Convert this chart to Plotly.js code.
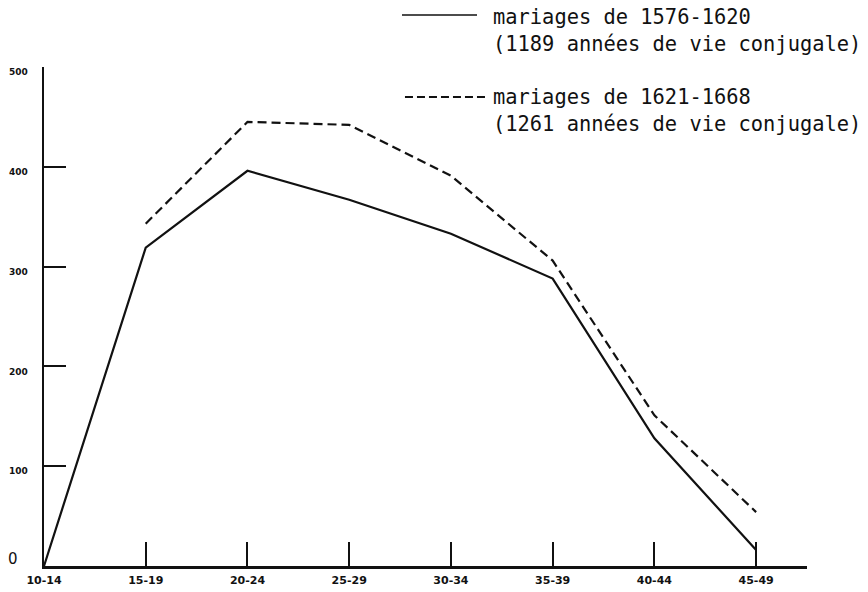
<!DOCTYPE html>
<html>
<head>
<meta charset="utf-8">
<script src="https://cdn.plot.ly/plotly-3.0.1.min.js"></script>
<style>html,body{margin:0;padding:0;background:#fff;}#chart{width:868px;height:592px;}</style>
</head>
<body>
<div id="chart"></div>
<script>
// Age groups of the wife
const ageGroups = ['10-14', '15-19', '20-24', '25-29', '30-34', '35-39', '40-44', '45-49'];
// Marriages 1576-1620 (1189 years of married life)
const series1Name = 'mariages de 1576-1620';
const series1Sub = '(1189 années de vie conjugale)';
const series1Values = [0, 319, 396, 367, 333, 288, 128, 16];
// Marriages 1621-1668 (1261 years of married life)
const series2Name = 'mariages de 1621-1668';
const series2Sub = '(1261 années de vie conjugale)';
const series2Values = [null, 343, 445, 442, 391, 306, 151, 54];
// Y-axis tick labels
const yTickVals = [100, 200, 300, 400, 500];
const yTickText = ['100', '200', '300', '400', '500'];

const ink = '#111111';

const traces = [
  {
    x: ageGroups, y: series1Values, type: 'scatter', mode: 'lines',
    name: series1Name, line: {color: ink, width: 2.2}, connectgaps: false
  },
  {
    x: ageGroups, y: series2Values, type: 'scatter', mode: 'lines',
    name: series2Name, line: {color: ink, width: 2.2, dash: '9px,5px'}, connectgaps: false
  }
];

const layout = {
  width: 868, height: 592,
  margin: {l: 44, r: 61, t: 67, b: 26},
  paper_bgcolor: '#ffffff', plot_bgcolor: '#ffffff',
  showlegend: false,
  xaxis: {
    type: 'category', range: [0, 7.5], automargin: false,
    showgrid: false, zeroline: false,
    showline: true, linecolor: ink, linewidth: 2.5,
    ticks: 'inside', ticklen: 24, tickwidth: 2, tickcolor: ink,
    tickfont: {family: 'DejaVu Sans', size: 11, color: ink, weight: 'bold'},
    ticklabelstandoff: 2
  },
  yaxis: {
    range: [0, 500], automargin: false,
    showgrid: false, zeroline: false,
    showline: true, linecolor: ink, linewidth: 2.5,
    ticks: 'inside', ticklen: 22, tickwidth: 2, tickcolor: ink,
    tickvals: yTickVals, ticktext: yTickText,
    tickfont: {family: 'DejaVu Sans', size: 9, color: ink, weight: 'bold'},
    ticklabelstandoff: 12, ticklabelshift: 5
  },
  shapes: [
    {type: 'line', xref: 'paper', yref: 'paper', x0: 0.4692, x1: 0.5675, y0: 1.1042, y1: 1.1042,
     line: {color: ink, width: 1.5}},
    {type: 'line', xref: 'paper', yref: 'paper', x0: 0.4731, x1: 0.5806, y0: 0.9399, y1: 0.9399,
     line: {color: ink, width: 1.8, dash: '8px,4px'}}
  ],
  annotations: [
    {xref: 'paper', yref: 'paper', x: 0.5865, y: 1.0741, xanchor: 'left', yanchor: 'middle',
     align: 'left', showarrow: false, text: series1Name + '<br>' + series1Sub,
     font: {family: 'DejaVu Sans Mono', size: 20.4, color: ink}},
    {xref: 'paper', yref: 'paper', x: 0.5865, y: 0.9128, xanchor: 'left', yanchor: 'middle',
     align: 'left', showarrow: false, text: series2Name + '<br>' + series2Sub,
     font: {family: 'DejaVu Sans Mono', size: 20.4, color: ink}},
    {xref: 'paper', yref: 'paper', x: -0.0315, y: 0.014, xanchor: 'right', yanchor: 'middle',
     showarrow: false, text: '0', font: {family: 'DejaVu Sans', size: 15, color: ink}}
  ]
};

Plotly.newPlot('chart', traces, layout, {staticPlot: true, displayModeBar: false});
</script>
</body>
</html>
